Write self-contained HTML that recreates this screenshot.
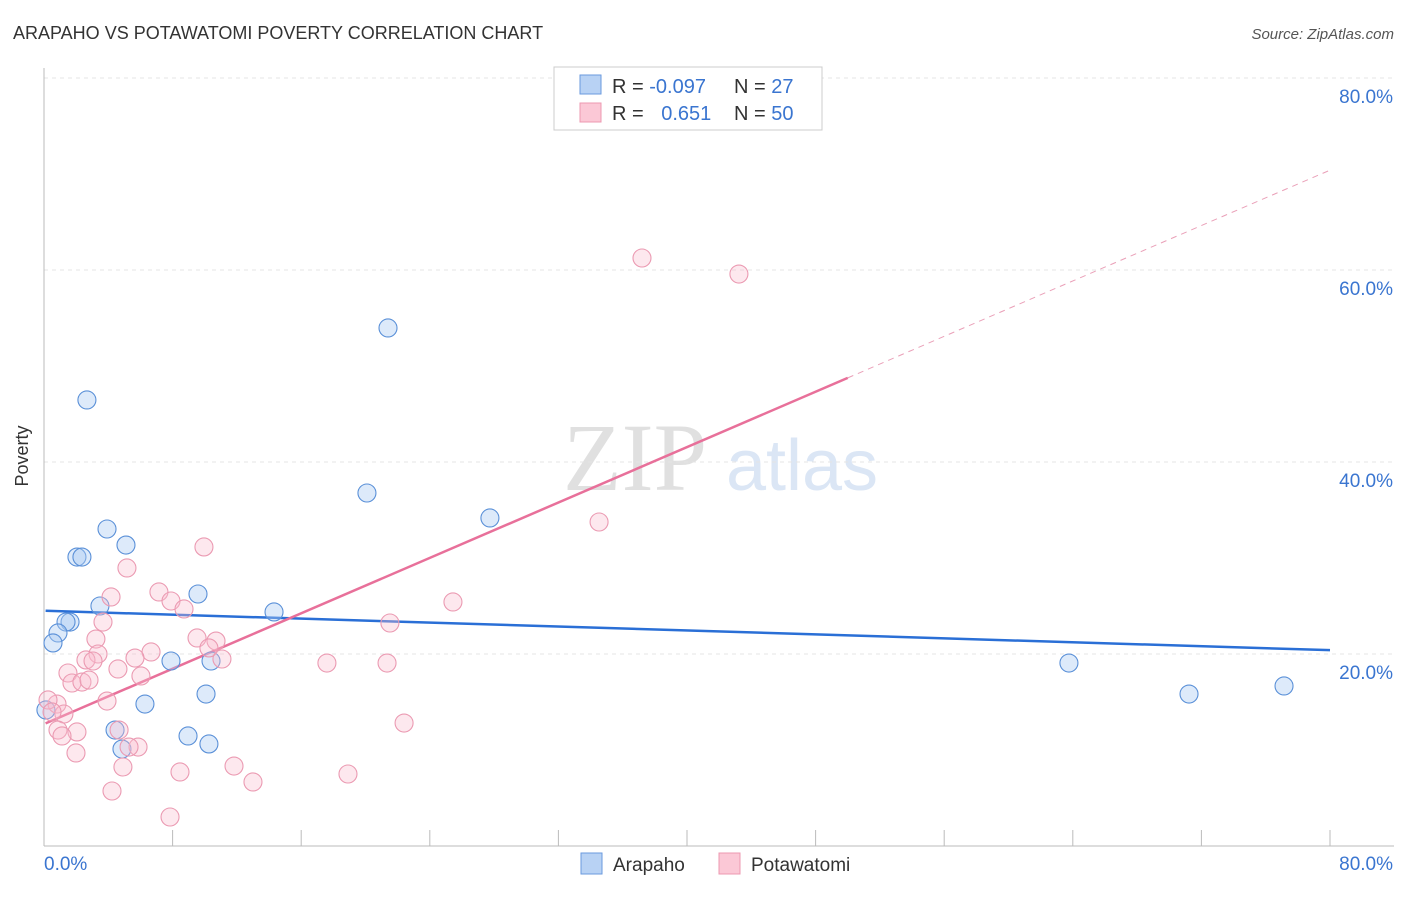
<!DOCTYPE html>
<html><head><meta charset="utf-8"><style>
body{margin:0;background:#fff;font-family:"Liberation Sans",sans-serif;}
</style></head><body>
<svg width="1406" height="892" xmlns="http://www.w3.org/2000/svg">
<text x="13" y="39" font-size="18" fill="#333">ARAPAHO VS POTAWATOMI POVERTY CORRELATION CHART</text>
<text x="1394" y="39" font-size="15" fill="#555" font-style="italic" text-anchor="end">Source: ZipAtlas.com</text>
<g>
<text x="635" y="490" font-size="96" font-family="Liberation Serif,serif" fill="#e0e0e0" text-anchor="middle">ZIP</text>
<text x="802" y="490" font-size="72" fill="#dbe6f5" text-anchor="middle">atlas</text>
</g>
<g id="grid"></g>
<g id="axes"></g>
<g id="lines"></g>
<g id="points"></g>
<text x="28" y="456" font-size="18" fill="#333" text-anchor="middle" transform="rotate(-90 28 456)">Poverty</text>
<g>
<rect x="554" y="67" width="268" height="63" fill="#fff" stroke="#ccc"/>
<rect x="580" y="75" width="21" height="19" fill="#b8d2f4" stroke="#6a9ade"/>
<rect x="580" y="103" width="21" height="19" fill="#fbc8d6" stroke="#ec98b0"/>
<text x="612" y="93" font-size="20" fill="#333">R = <tspan fill="#3a75d0">-0.097</tspan></text>
<text x="734" y="93" font-size="20" fill="#333">N = <tspan fill="#3a75d0"> 27</tspan></text>
<text x="612" y="120" font-size="20" fill="#333">R = <tspan fill="#3a75d0" dx="12">0.651</tspan></text>
<text x="734" y="120" font-size="20" fill="#333">N = <tspan fill="#3a75d0">50</tspan></text>
</g>
<g>
<rect x="581" y="853" width="21" height="21" fill="#b8d2f4" stroke="#6a9ade"/>
<text x="613" y="871" font-size="19" fill="#333">Arapaho</text>
<rect x="719" y="853" width="21" height="21" fill="#fbc8d6" stroke="#ec98b0"/>
<text x="751" y="871" font-size="19" fill="#333">Potawatomi</text>
</g>
</svg>
<script>
const yTicks=[20,40,60,80];
const yTickLabels=["20.0%","40.0%","60.0%","80.0%"];
const xTicks=[0,8,16,24,32,40,48,56,64,72,80];
const arapahoX=[2.67,21.40,20.09,27.74,3.92,5.10,2.05,2.36,3.48,9.58,14.31,1.62,1.37,0.87,0.56,7.90,10.39,10.08,6.28,4.42,8.96,4.85,10.26,63.76,71.23,77.14,0.12];
const arapahoY=[46.46,53.96,36.77,34.17,33.02,31.35,30.10,30.10,25.0,26.25,24.38,23.33,23.33,22.19,21.15,19.27,19.27,15.83,14.79,12.08,11.46,10.10,10.63,19.06,15.83,16.67,14.17];
const potaX=[37.20,43.23,34.53,9.95,5.16,25.44,4.17,7.15,7.90,8.71,3.67,21.52,3.23,9.52,10.70,6.66,10.26,3.36,5.66,11.07,2.61,3.05,17.60,21.34,1.49,4.60,6.03,1.74,2.36,2.80,3.92,0.81,0.25,1.24,0.50,22.40,2.05,0.87,1.12,4.67,5.85,5.29,1.99,4.91,8.46,11.82,18.91,13.00,4.23,7.84];
const potaY=[61.25,59.58,33.75,31.15,28.96,25.42,25.94,26.46,25.52,24.69,23.33,23.23,21.56,21.67,21.35,20.21,20.63,20.0,19.58,19.48,19.38,19.27,19.06,19.06,18.02,18.44,17.71,16.98,17.08,17.29,15.10,14.79,15.21,13.75,13.96,12.81,11.88,12.08,11.46,12.08,10.31,10.31,9.69,8.23,7.71,8.33,7.50,6.67,5.73,3.02];
const blueTrend=[24.5,20.4];
const pinkTrend=[12.7,70.4];
const pinkSolidEnd=50;

const NS="http://www.w3.org/2000/svg";
const xs=v=>44+v*16.075, ys=v=>846-v*9.6;
function mk(tag,attrs,parent){const e=document.createElementNS(NS,tag);for(const k in attrs)e.setAttribute(k,attrs[k]);document.getElementById(parent).appendChild(e);return e;}
yTicks.forEach((t,i)=>{
 const g=mk('line',{x1:44,x2:1394,y1:ys(t),y2:ys(t),stroke:'#e4e4e4','stroke-dasharray':'4,4'},'grid');
 
 
 const l=mk('text',{x:1393,y:ys(t)+25,'font-size':19,fill:'#3a75d0','text-anchor':'end'},'axes');
 l.textContent=yTickLabels[i];
 
 
});
const ax=mk('line',{x1:44,x2:44,y1:68,y2:846,stroke:'#bbb'},'axes');


const bx=mk('line',{x1:44,x2:1394,y1:846,y2:846,stroke:'#bbb'},'axes');


xTicks.forEach(t=>{
 const e=mk('line',{x1:xs(t),x2:xs(t),y1:830,y2:846,stroke:'#bbb'},'axes');
 
 
});
let t0=mk('text',{x:44,y:870,'font-size':19,fill:'#3a75d0'},'axes');t0.textContent='0.0%';


let t1=mk('text',{x:1393,y:870,'font-size':19,fill:'#3a75d0','text-anchor':'end'},'axes');t1.textContent='80.0%';


arapahoX.forEach((x,i)=>{
 const c=mk('circle',{cx:xs(x),cy:ys(arapahoY[i]),r:9,fill:'rgba(170,202,242,0.4)',stroke:'#5a90d8','stroke-width':1.1},'points');
 
 
});
potaX.forEach((x,i)=>{
 const c=mk('circle',{cx:xs(x),cy:ys(potaY[i]),r:9,fill:'rgba(250,190,206,0.35)',stroke:'#eb9ab2','stroke-width':1.1},'points');
 
 
});
const pAt=x=>pinkTrend[0]+(pinkTrend[1]-pinkTrend[0])*x/80;
const bl=mk('line',{x1:xs(0.1),y1:ys(blueTrend[0]),x2:xs(80),y2:ys(blueTrend[1]),stroke:'#2a6fd6','stroke-width':2.5},'lines');


const pl=mk('line',{x1:xs(0.1),y1:ys(pAt(0.1)),x2:xs(pinkSolidEnd),y2:ys(pAt(pinkSolidEnd)),stroke:'#e8709a','stroke-width':2.5},'lines');


const pd=mk('line',{x1:xs(pinkSolidEnd),y1:ys(pAt(pinkSolidEnd)),x2:xs(80),y2:ys(pAt(80)),stroke:'#eaa0b8','stroke-width':1,'stroke-dasharray':'6,5'},'lines');


</script>
</body></html>
